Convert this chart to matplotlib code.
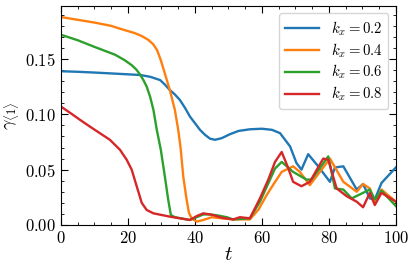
import matplotlib
matplotlib.use("Agg")
import matplotlib.pyplot as plt
from matplotlib.ticker import MultipleLocator

plt.rcParams["font.family"] = "serif"
plt.rcParams["font.serif"] = ["cmr10", "DejaVu Serif"]
plt.rcParams["mathtext.fontset"] = "cm"
plt.rcParams["axes.unicode_minus"] = False
plt.rcParams["axes.formatter.use_mathtext"] = True

# k_x = 0.2
t_02 = [0, 5, 10, 15, 20, 23.6, 26.6, 29.6, 31, 32.5, 34, 35.5, 37, 38.5, 40, 41.5, 43,
        44.5, 46, 48, 50.4, 53, 56.4, 60, 63, 65.4, 68.4, 70.3, 71.8, 73.8, 76.8, 80.3,
        81.8, 84.3, 88.3, 90.2, 92.2, 93.7, 95.7, 100]
g_02 = [0.139, 0.1385, 0.1378, 0.137, 0.1362, 0.1356, 0.134, 0.131, 0.127, 0.122, 0.118,
        0.113, 0.106, 0.098, 0.092, 0.086, 0.0815, 0.078, 0.077, 0.0785, 0.082, 0.085,
        0.0865, 0.087, 0.086, 0.083, 0.071, 0.056, 0.050, 0.064, 0.053, 0.039, 0.052,
        0.053, 0.032, 0.037, 0.024, 0.023, 0.038, 0.052]

# k_x = 0.4
t_04 = [0, 5, 10, 15, 18.1, 22, 24, 26, 27.5, 28.7, 29.8, 31, 32.5, 34, 35, 35.7, 36.5,
        37.5, 38.2, 39, 40.5, 42.5, 45, 48, 51.4, 54, 56.4, 59, 61.4, 63.5, 65.9, 69.3,
        71.3, 74.3, 79.3, 80.3, 84.3, 88.3, 90.2, 92.2, 93.7, 95.7, 100]
g_04 = [0.188, 0.1855, 0.183, 0.180, 0.177, 0.1735, 0.171, 0.1675, 0.1635, 0.158, 0.149,
        0.137, 0.122, 0.104, 0.086, 0.070, 0.044, 0.023, 0.011, 0.006, 0.003, 0.0045,
        0.007, 0.006, 0.005, 0.005, 0.005, 0.014, 0.027, 0.037, 0.048, 0.053, 0.048,
        0.036, 0.056, 0.060, 0.039, 0.030, 0.037, 0.033, 0.021, 0.032, 0.021]

# k_x = 0.6
t_06 = [0, 5, 10, 16.1, 19, 21.1, 22.5, 23.6, 24.6, 25.6, 26.6, 27.6, 28.6, 29.8, 31, 32,
        32.8, 34, 38.5, 40.5, 42.5, 44.5, 47, 49.5, 51.4, 56.4, 59.4, 61.5, 63.9, 65.9,
        69.3, 73.3, 74.8, 79.8, 81.8, 84.3, 86.8, 92.2, 93.7, 95.7, 100]
g_06 = [0.172, 0.167, 0.161, 0.154, 0.149, 0.1445, 0.1405, 0.136, 0.131, 0.125, 0.116,
        0.104, 0.086, 0.068, 0.044, 0.023, 0.009, 0.007, 0.0045, 0.007, 0.0095, 0.0095,
        0.0085, 0.007, 0.005, 0.006, 0.021, 0.035, 0.051, 0.057, 0.048, 0.041, 0.041,
        0.062, 0.033, 0.032, 0.024, 0.032, 0.023, 0.031, 0.017]

# k_x = 0.8
t_08 = [0, 2.9, 5.7, 8.6, 11.6, 14.6, 17.6, 19.6, 21.1, 22.6, 24.1, 25.6, 27.6, 32.5,
        38.5, 40.5, 42.5, 45.4, 48, 51.4, 53.4, 56.4, 59.4, 61.9, 63.9, 65.9, 67.9, 69.3,
        71.8, 74.3, 78.3, 79.8, 82.3, 85.3, 88.3, 90.2, 92.2, 93.7, 95.7, 100]
g_08 = [0.107, 0.101, 0.095, 0.089, 0.083, 0.077, 0.068, 0.059, 0.050, 0.035, 0.020,
        0.0135, 0.0105, 0.0075, 0.0045, 0.008, 0.0105, 0.009, 0.0065, 0.005, 0.007,
        0.006, 0.024, 0.041, 0.057, 0.066, 0.051, 0.039, 0.035, 0.039, 0.060, 0.059,
        0.033, 0.026, 0.021, 0.016, 0.029, 0.018, 0.029, 0.021]

series = [(t_02, g_02, "0.2"), (t_04, g_04, "0.4"), (t_06, g_06, "0.6"), (t_08, g_08, "0.8")]

fig = plt.figure(figsize=(4.15, 2.72), dpi=100)
ax = fig.add_axes([0.147, 0.173, 0.807, 0.805])

for t, g, k in series:
    ax.plot(t, g, lw=1.7, label=rf"$k_x = {k}$")

ax.set_xlim(0, 100)
ax.set_ylim(0, 0.198)
ax.xaxis.set_major_locator(MultipleLocator(20))
ax.xaxis.set_minor_locator(MultipleLocator(5))
ax.yaxis.set_major_locator(MultipleLocator(0.05))
ax.yaxis.set_minor_locator(MultipleLocator(0.01))
ax.tick_params(which="both", direction="in", top=True, right=True, labelsize=12)
ax.tick_params(which="major", length=5)
ax.tick_params(which="minor", length=2.5)

ax.set_xlabel(r"$t$", fontsize=15, labelpad=0)
ax.set_ylabel(r"$\gamma_{\langle 1 \rangle}$", fontsize=13, labelpad=2)
ax.legend(loc="upper right", fontsize=10.7, handlelength=2.3, labelspacing=0.22,
          borderaxespad=0.5)

fig.savefig("out.png", dpi=100)
